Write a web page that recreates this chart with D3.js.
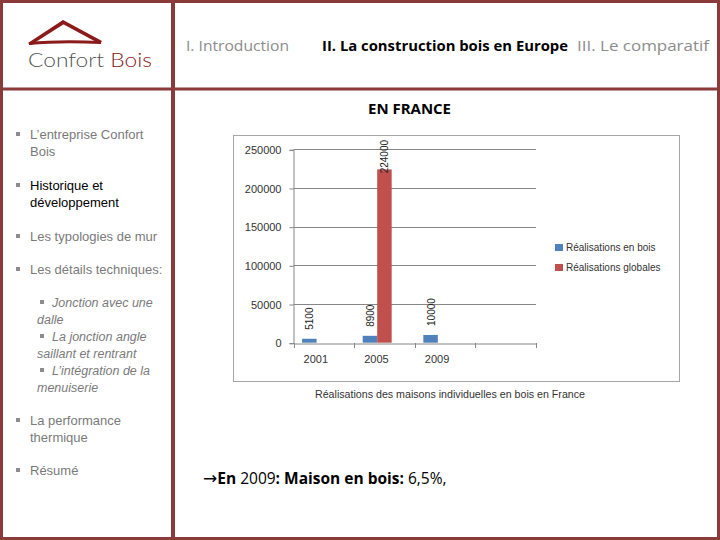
<!DOCTYPE html>
<html><head><meta charset="utf-8">
<script src="https://cdn.jsdelivr.net/npm/d3@7"></script>
<style>body{margin:0;background:#fff}svg{display:block}</style>
</head><body><div id="c"></div>
<script>
const categories = ["2001", "2005", "2009", ""];
const seriesNames = ["Réalisations en bois", "Réalisations globales"];
const seriesColors = ["#4f81bd", "#c0504d"];
const boisValues = [5100, 8900, 10000, null];
const globalesValues = [null, 224000, null, null];
const yTickValues = [0, 50000, 100000, 150000, 200000, 250000];
const chartTitle = "Réalisations des maisons individuelles en bois en France";
const navItems = ["I. Introduction", "II. La construction bois en Europe", "III. Le comparatif"];

const W = 720, H = 540, frameColor = "#8b3a3a";
const svg = d3.select("#c").append("svg").attr("width", W).attr("height", H);

// slide frame
svg.append("rect").attr("x", 1.5).attr("y", 1.5).attr("width", W - 3).attr("height", H - 3)
  .attr("fill", "none").attr("stroke", frameColor).attr("stroke-width", 3);
svg.append("line").attr("x1", 173).attr("x2", 173).attr("y1", 0).attr("y2", H).attr("stroke", frameColor).attr("stroke-width", 4);
svg.append("line").attr("x1", 0).attr("x2", W).attr("y1", 89).attr("y2", 89).attr("stroke", frameColor).attr("stroke-width", 3);

// logo
const logo = svg.append("g");
logo.append("path").attr("d", "M63,20 L28,43 L31,45 L64,24 Z").attr("fill", "#8b1a1a");
logo.append("path").attr("d", "M63,20 L102,41 L100,44 L61,23 Z").attr("fill", "#8b1a1a");
logo.append("path").attr("d", "M29,42 Q60,39 101,41 L101,44 Q60,42 29,45 Z").attr("fill", "#8b1a1a");
const lt = logo.append("text").attr("x", 28).attr("y", 67).attr("font-family", "Lato, 'DejaVu Sans', sans-serif")
  .attr("font-weight", 300).attr("font-size", 19).attr("textLength", 124).attr("lengthAdjust", "spacingAndGlyphs");
lt.append("tspan").attr("fill", "#555").text("Confort ");
lt.append("tspan").attr("fill", "#8b1a1a").text("Bois");

// navigation header
const navX = [186, 322, 577], navW = [103, 246, 132];
navItems.forEach((t, i) => {
  svg.append("text").attr("x", navX[i]).attr("y", 51).attr("font-family", "'Open Sans', 'Liberation Sans', sans-serif")
    .attr("font-size", 14.5).attr("font-weight", i === 1 ? 700 : 400).attr("fill", i === 1 ? "#000" : "#8c8c8c")
    .attr("textLength", navW[i]).attr("lengthAdjust", "spacingAndGlyphs").text(t);
});
svg.append("text").attr("x", 368).attr("y", 114).attr("font-family", "'Open Sans', 'Liberation Sans', sans-serif")
  .attr("font-size", 14.5).attr("font-weight", 700).attr("textLength", 83).attr("lengthAdjust", "spacingAndGlyphs").text("EN FRANCE");

// left menu
const menu = [
  {lines: ["L’entreprise Confort", "Bois"], y: 134, c: "#7a7a7a"},
  {lines: ["Historique et", "développement"], y: 185, c: "#000"},
  {lines: ["Les typologies de mur"], y: 236, c: "#7a7a7a"},
  {lines: ["Les détails techniques:"], y: 269, c: "#7a7a7a"},
  {lines: ["Jonction avec une", "dalle"], y: 302, c: "#7a7a7a", sub: true},
  {lines: ["La jonction angle", "saillant et rentrant"], y: 336, c: "#7a7a7a", sub: true},
  {lines: ["L’intégration de la", "menuiserie"], y: 370, c: "#7a7a7a", sub: true},
  {lines: ["La performance", "thermique"], y: 420, c: "#7a7a7a"},
  {lines: ["Résumé"], y: 470, c: "#7a7a7a"}
];
menu.forEach(m => {
  const bx = m.sub ? 40 : 16;
  svg.append("rect").attr("x", bx).attr("y", m.y - 2).attr("width", 4).attr("height", 4).attr("fill", "#8c8c8c");
  m.lines.forEach((l, j) => {
    svg.append("text").attr("x", j === 0 ? (m.sub ? 52 : 30) : (m.sub ? 37 : 30)).attr("y", m.y + 4.5 + j * 17)
      .attr("font-family", "'Liberation Sans', Arial, sans-serif").attr("font-size", m.sub ? 12.5 : 13)
      .attr("font-style", m.sub ? "italic" : "normal").attr("fill", m.c).text(l);
  });
});

// chart frame
svg.append("rect").attr("x", 233.5).attr("y", 135.5).attr("width", 446).attr("height", 246)
  .attr("fill", "#fff").attr("stroke", "#a6a6a6").attr("stroke-width", 1);

const x0 = d3.scaleBand().domain(categories).range([293.5, 536]).paddingInner(0).paddingOuter(0);
const x1 = d3.scaleBand().domain([0, 1, 2]).range([0, x0.bandwidth()]).paddingInner(0).paddingOuter(0.593);
const y = d3.scaleLinear().domain([0, 250000]).range([342.7, 149.3]);

const tf = "'Liberation Sans', Arial, sans-serif";
// gridlines
svg.append("g").selectAll("line").data(yTickValues.filter(v => v > 0)).join("line")
  .attr("x1", 293.5).attr("x2", 536).attr("y1", d => Math.round(y(d)) + 0.5).attr("y2", d => Math.round(y(d)) + 0.5)
  .attr("stroke", "#868686");

// y axis
const yAxis = svg.append("g").attr("transform", "translate(293.5,0.5)")
  .call(d3.axisLeft(y).tickValues(yTickValues).tickFormat(d3.format("d")).tickSize(4).tickPadding(8));
yAxis.select(".domain").attr("stroke", "#868686");
yAxis.selectAll(".tick line").attr("stroke", "#868686");
yAxis.selectAll("text").attr("font-family", tf).attr("font-size", 11).attr("fill", "#333");

// x axis
const xAxis = svg.append("g").attr("transform", `translate(0,${Math.round(y(0)) + 0.5})`)
  .call(d3.axisBottom(x0).tickSize(0).tickPadding(12));
xAxis.select(".domain").attr("stroke", "#868686");
xAxis.selectAll("text").attr("font-family", tf).attr("font-size", 11).attr("fill", "#333").attr("dx", -8);
svg.append("g").selectAll("line").data(d3.range(categories.length + 1)).join("line")
  .attr("x1", i => Math.round(293.5 + i * x0.step()) + 0.5).attr("x2", i => Math.round(293.5 + i * x0.step()) + 0.5)
  .attr("y1", Math.round(y(0))).attr("y2", Math.round(y(0)) + 5).attr("stroke", "#868686");

// bars
const seriesData = [boisValues, globalesValues];
const barData = [];
seriesData.forEach((vals, s) => vals.forEach((v, i) => { if (v != null) barData.push({s, cat: categories[i], v}); }));
svg.append("g").selectAll("rect").data(barData).join("rect")
  .attr("x", d => x0(d.cat) + x1(d.s)).attr("width", x1.bandwidth())
  .attr("y", d => y(d.v)).attr("height", d => y(0) - y(d.v))
  .attr("fill", d => seriesColors[d.s]);

// data labels (rotated), kept inside the chart area
svg.append("g").selectAll("text").data(barData).join("text")
  .attr("transform", d => {
    const cx = x0(d.cat) + x1(d.s) + x1.bandwidth() / 2 + 4;
    const len = String(d.v).length * 5.56;
    const yb = Math.max(y(d.v) - 9, 140 + len);
    return `translate(${cx},${yb}) rotate(-90)`;
  })
  .attr("font-family", tf).attr("font-size", 10).attr("fill", "#222").text(d => d.v);

// legend
const lg = svg.append("g").selectAll("g").data(seriesNames).join("g")
  .attr("transform", (d, i) => `translate(555,${244 + i * 20})`);
lg.append("rect").attr("width", 8).attr("height", 7).attr("fill", (d, i) => seriesColors[i]);
lg.append("text").attr("x", 11).attr("y", 7).attr("font-family", tf).attr("font-size", 10).attr("fill", "#333").text(d => d);

// chart title
svg.append("text").attr("x", 450).attr("y", 398).attr("text-anchor", "middle").attr("font-family", tf)
  .attr("font-size", 10).attr("fill", "#333").attr("textLength", 270).attr("lengthAdjust", "spacingAndGlyphs").text(chartTitle);

// bottom note
const note = svg.append("text").attr("x", 203).attr("y", 484).attr("font-family", "'Open Sans', 'Liberation Sans', sans-serif")
  .attr("font-size", 15.5).attr("fill", "#000");
note.append("tspan").attr("font-family", "'DejaVu Sans', sans-serif").attr("font-size", 17).text("→");
note.append("tspan").attr("font-weight", 700).text("En ");
note.append("tspan").text("2009");
note.append("tspan").attr("font-weight", 700).text(": Maison en bois:");
note.append("tspan").text(" 6,5%,");
</script></body></html>
